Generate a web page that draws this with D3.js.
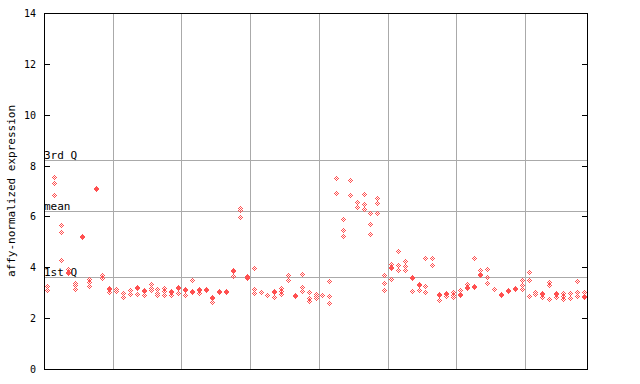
<!DOCTYPE html>
<html>
<head>
<meta charset="utf-8">
<script src="https://cdn.jsdelivr.net/npm/d3@7"></script>
<style>
  html, body { margin: 0; padding: 0; background: #ffffff; }
  svg { display: block; }
  text { font-family: "DejaVu Sans Mono", "Liberation Mono", monospace; fill: #000; }
</style>
</head>
<body>
<svg id="chart" width="640" height="384"></svg>
<script>
// ---- data ----
const yTicks = [0, 2, 4, 6, 8, 10, 12, 14];
const refLabels = ["3rd Q", "mean", "1st Q"];
const refValues = [8.22, 6.2, 3.62];
const groupSize = 10;
const yTitle = "affy-normalized expression";

// open (checkered) diamonds per sample column
const hollowVals = [
  [3.25, 3.1], [7.55, 7.31, 6.83], [5.65, 5.39, 4.29], [3.94], [3.38, 3.29, 3.16],
  [], [3.55, 3.42, 3.25], [], [3.68, 3.58], [3.04],
  [3.13, 3.07], [2.99, 2.83], [3.1, 2.96], [2.95], [2.9],
  [3.34, 3.19, 3.09], [3.13, 2.98, 2.9], [3.2, 3.07, 2.9], [2.92], [2.97],
  [2.9], [3.5], [2.97], [], [2.62],
  [], [], [3.64], [6.33, 6.24, 5.97], [3.57],
  [3.96, 3.15, 3.0], [3.02], [2.9], [2.82], [3.18, 3.08, 2.95],
  [3.68, 3.49], [], [3.72, 3.24, 3.05], [3.01, 2.79, 2.69], [2.95, 2.87, 2.79],
  [2.91], [3.45, 2.87, 2.58], [7.53, 6.91], [5.88, 5.45, 5.22], [7.42, 6.83],
  [6.55, 6.36], [6.87, 6.48, 6.28], [6.12, 5.69, 5.3], [6.71, 6.52, 6.12], [3.68, 3.37, 3.09],
  [4.14, 3.53], [4.63, 4.08, 3.88], [4.24, 4.04, 3.88], [3.05], [3.09],
  [4.35, 3.26, 3.01], [4.35, 4.08], [2.7], [2.86], [3.03, 2.92, 2.82],
  [3.12], [3.33], [4.35], [3.89], [3.93, 3.62, 3.37],
  [3.13], [], [], [], [3.49, 3.32, 3.15],
  [3.8, 3.49, 2.86], [3.03, 2.94], [2.82], [3.41, 3.3, 2.74], [2.84],
  [2.97, 2.87, 2.76], [2.97, 2.79], [3.45, 3.01, 2.86], [3.01]
];
// solid diamonds (overlapping points) per sample column
const solidVals = [
  null, null, null, 3.81, null,
  5.25, null, 7.12, null, 3.17,
  null, null, null, 3.21, 3.12,
  null, null, null, 3.08, 3.21,
  3.16, 3.08, 3.16, 3.16, 2.82,
  3.08, 3.08, 3.9, null, 3.67,
  null, null, null, 3.08, null,
  null, 2.92, null, null, null,
  null, null, null, null, null,
  null, null, null, null, null,
  4.02, null, null, 3.63, 3.35,
  null, null, 2.96, 2.98, null,
  2.96, 3.21, 3.26, 3.75, null,
  null, 2.94, 3.11, 3.17, null,
  null, null, 3.0, null, 2.99,
  null, null, null, 2.87
];

(function () {
// ---- layout ----
const W = 640, H = 384;
const pLeft = 44, pRight = 587, pTop = 13, pBottom = 369;
const color = "#ff5050";
const gridColor = "#aaaaaa";
const nCols = hollowVals.length;

const svg = d3.select("#chart");
svg.append("rect").attr("width", W).attr("height", H).attr("fill", "#fff");

const x = d3.scaleLinear().domain([-0.5, nCols - 0.5]).range([pLeft, pRight]);
const y = d3.scaleLinear().domain([0, 14]).range([pBottom, pTop]);
const px = v => Math.round(v) + 0.5;

const g = svg.append("g").attr("shape-rendering", "crispEdges");

// vertical group separators
const breaks = d3.range(groupSize - 0.5, nCols - 1, groupSize);
g.selectAll("line.vgrid").data(breaks).join("line")
  .attr("class", "vgrid")
  .attr("x1", d => px(x(d))).attr("x2", d => px(x(d)))
  .attr("y1", pTop).attr("y2", pBottom)
  .attr("stroke", gridColor).attr("stroke-width", 1);

// horizontal reference lines
g.selectAll("line.hgrid").data(refValues).join("line")
  .attr("class", "hgrid")
  .attr("x1", pLeft).attr("x2", pRight)
  .attr("y1", d => px(y(d))).attr("y2", d => px(y(d)))
  .attr("stroke", gridColor).attr("stroke-width", 1);

// reference labels
svg.selectAll("text.ref").data(refValues).join("text")
  .attr("class", "ref")
  .attr("x", pLeft)
  .attr("y", d => Math.round(y(d)) - 1)
  .attr("font-size", 11)
  .text((d, i) => refLabels[i]);

// markers drawn as pixel patterns
const checker = [[0,-2],[-1,-1],[1,-1],[-2,0],[0,0],[2,0],[-1,1],[1,1],[0,2]];
const solidPix = [];
checker.forEach(([dx, dy]) => { solidPix.push([dx, dy]); solidPix.push([dx, dy + 1]); });

const hollowPts = [];
hollowVals.forEach((arr, i) => arr.forEach(v => hollowPts.push({ i, v })));
const solidPts = [];
solidVals.forEach((v, i) => { if (v !== null) solidPts.push({ i, v }); });

const mk = svg.append("g").attr("shape-rendering", "crispEdges").attr("fill", color);
function drawMarker(sel, pattern) {
  sel.each(function(d) {
    const cx = Math.round(x(d.i)), cy = Math.round(y(d.v));
    d3.select(this).selectAll("rect").data(pattern).join("rect")
      .attr("x", p => cx + p[0]).attr("y", p => cy + p[1])
      .attr("width", 1).attr("height", 1);
  });
}
drawMarker(mk.selectAll("g.h").data(hollowPts).join("g").attr("class", "h"), checker);
drawMarker(mk.selectAll("g.s").data(solidPts).join("g").attr("class", "s"), solidPix);

// frame
const fr = svg.append("g").attr("shape-rendering", "crispEdges");
fr.append("rect")
  .attr("x", pLeft + 0.5).attr("y", pTop + 0.5)
  .attr("width", pRight - pLeft).attr("height", pBottom - pTop)
  .attr("fill", "none").attr("stroke", "#000").attr("stroke-width", 1);

// ticks (inward, both sides)
fr.selectAll("line.tl").data(yTicks).join("line")
  .attr("x1", pLeft).attr("x2", pLeft + 6)
  .attr("y1", d => px(y(d))).attr("y2", d => px(y(d)))
  .attr("stroke", "#000");
fr.selectAll("line.tr").data(yTicks).join("line")
  .attr("x1", pRight - 5).attr("x2", pRight + 1)
  .attr("y1", d => px(y(d))).attr("y2", d => px(y(d)))
  .attr("stroke", "#000");

svg.selectAll("text.tick").data(yTicks).join("text")
  .attr("class", "tick")
  .attr("x", 36)
  .attr("y", d => Math.round(y(d)) + 4)
  .attr("text-anchor", "end")
  .attr("font-size", 10)
  .text(d => d);

// y title
svg.append("text")
  .attr("transform", `translate(15,${(pTop + pBottom) / 2}) rotate(-90)`)
  .attr("text-anchor", "middle")
  .attr("font-size", 11)
  .text(yTitle);
})();
</script>
</body>
</html>
